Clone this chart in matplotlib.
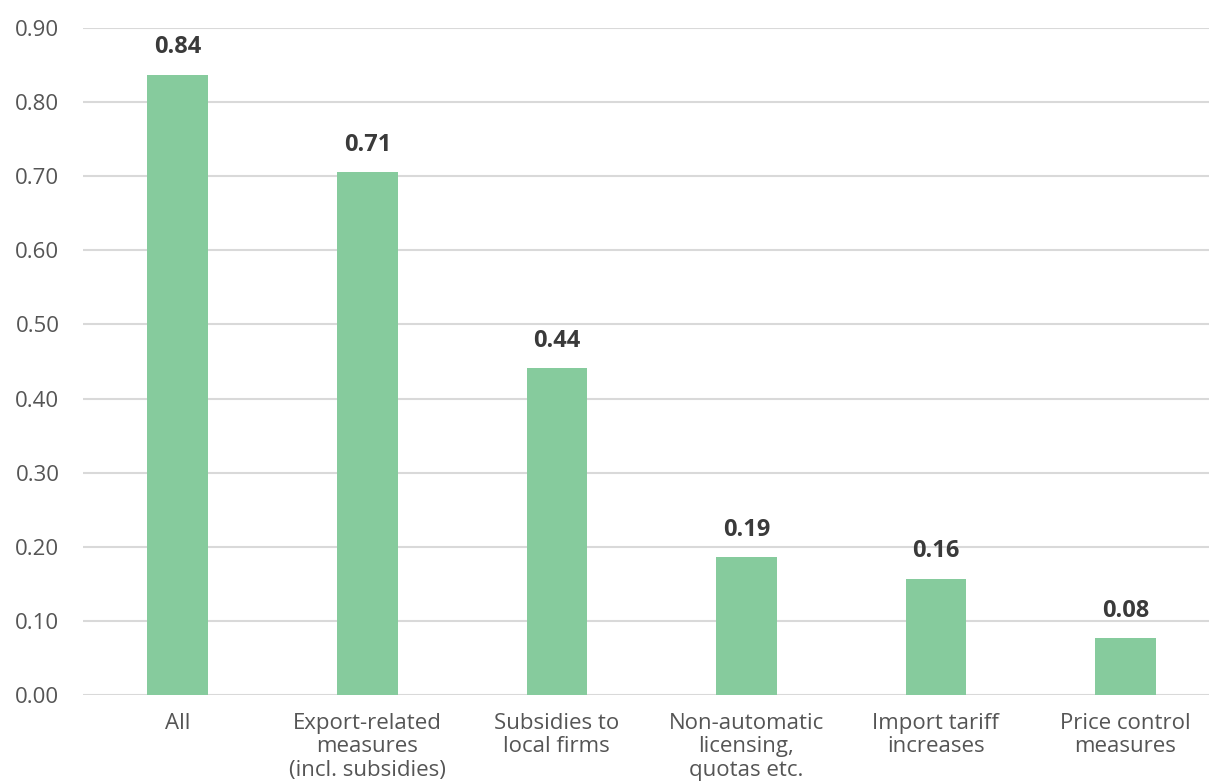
import numpy as np
import matplotlib.pyplot as plt

# Данные
categories = ["All", "Export-related\nmeasures\n(incl. subsidies)", "Subsidies to\nlocal firms",
              "Non-automatic\nlicensing,\nquotas etc.", "Import tariff\nincreases", "Price control\nmeasures"]
values = [0.837, 0.706, 0.441, 0.186, 0.157, 0.077]
yticks = [0.0, 0.1, 0.2, 0.3, 0.4, 0.5, 0.6, 0.7, 0.8, 0.9]

plt.rcParams['font.family'] = ['Open Sans', 'DejaVu Sans']

fig = plt.figure(figsize=(12.09, 7.83), dpi=100)
ax = fig.add_axes([0.0687, 0.1124, 0.9405, 0.8518])

x = np.arange(len(categories))
bars = ax.bar(x, values, width=0.32, color='#86cb9d', zorder=3)

# подписи значений
for xi, v in zip(x, values):
    ax.annotate(f"{v:.2f}", (xi, v), xytext=(0, 11), textcoords='offset points',
                ha='center', va='bottom', fontsize=17, fontweight='bold', color='#3a3a3a')

ax.set_xlim(-0.5, len(categories) - 0.5)
ax.set_ylim(0, 0.9)
ax.set_yticks(yticks)
ax.set_yticklabels([f"{t:.2f}" for t in yticks])
ax.set_xticks(x)
ax.set_xticklabels(categories, linespacing=1.15)
ax.tick_params(axis='both', length=0, labelsize=16, labelcolor='#555555')
ax.tick_params(axis='x', pad=13)
ax.tick_params(axis='y', pad=17)

ax.grid(axis='y', color='#d9d9d9', linewidth=1.5, zorder=0)
for s in ax.spines.values():
    s.set_visible(False)

fig.savefig("out.png", dpi=100)
